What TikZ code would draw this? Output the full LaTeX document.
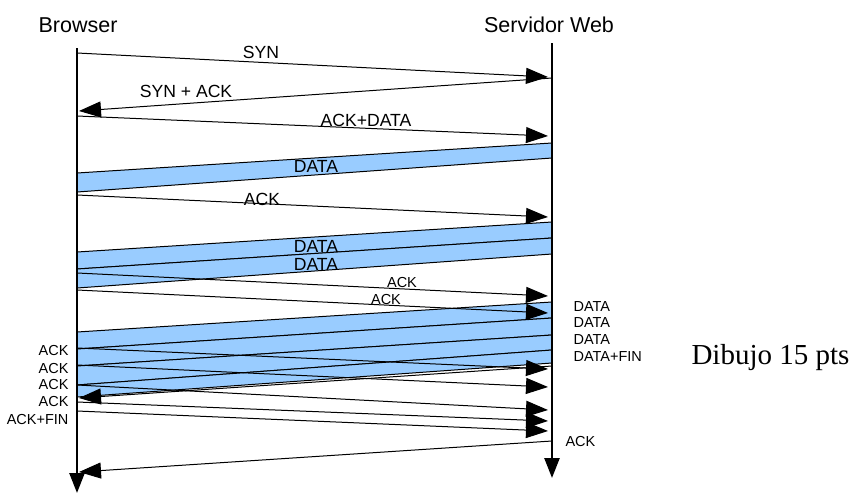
\documentclass[tikz,border=0pt]{standalone}
\usepackage{fontspec}
\setmainfont{Liberation Sans}
\newfontfamily\serifnote{Liberation Serif}
\usetikzlibrary{arrows.meta}
\definecolor{databand}{HTML}{99CCFF}

\begin{document}
\begin{tikzpicture}[x=1pt, y=-1pt,
  life/.style={line width=2.5pt, -{Triangle[length=20pt, width=15pt]}},
  msg/.style={line width=1pt, -{Triangle[length=22pt, width=16pt]}},
  band/.style={draw, line width=1pt, fill=databand},
  host/.style={anchor=base, font=\fontsize{21.5}{24}\selectfont},
  lab/.style={anchor=base, font=\fontsize{17.6}{20}\selectfont},
  tag/.style={anchor=base, font=\fontsize{14.5}{17}\selectfont}]
  \useasboundingbox (0,0) rectangle (849,493);
  % hosts
  \node[host] (browser) at (78,32) {Browser};
  \node[host] (server) at (549,32) {Servidor Web};
  \coordinate (b-top) at (77,48);
  \coordinate (b-end) at (77,493);
  \coordinate (s-top) at (552,43);
  \coordinate (s-end) at (552,478);
  % data segments
  \foreach \la/\lb/\ra/\rb in {173/192/143/158, 252/269/222/238, 269/288/238/254,
      332/349/302/318, 349/366/318/335, 366/385/335/350, 385/397/350/363} {
    \draw[band] (77,\la) -- (552,\ra) -- (552,\rb) -- (77,\lb) -- cycle;
  }
  \draw[life] (b-top) -- (b-end);
  \draw[life] (s-top) -- (s-end);
  % browser -> server
  \foreach \i/\ya/\yb in {1/53/77, 2/116/136, 3/195/217, 4/273/296, 5/290/313,
      6/348/369, 7/365/387, 8/385/410, 9/402/421, 10/411/431} {
    \coordinate (out\i) at (77,\ya);
    \coordinate (in\i) at (548,\yb);
    \draw[msg] (out\i) -- (in\i);
  }
  % server -> browser
  \foreach \i/\ya/\yb in {1/78/111, 2/366/398, 3/441/472} {
    \coordinate (back\i) at (552,\ya);
    \coordinate (got\i) at (79,\yb);
    \draw[msg] (back\i) -- (got\i);
  }
  % labels
  \node[lab] (syn) at (261,58) {SYN};
  \node[lab] (synack) at (186,97) {SYN + ACK};
  \node[lab] (ackdata) at (366,126) {ACK+DATA};
  \node[lab] (data1) at (316,172) {DATA};
  \node[lab] (ack1) at (262,205) {ACK};
  \node[lab] (data2) at (316,252) {DATA};
  \node[lab] (data3) at (316,270) {DATA};
  \node[tag] (ack2) at (402,287) {ACK};
  \node[tag] (ack3) at (386,304) {ACK};
  \foreach \i/\yy/\txt in {1/311/DATA, 2/327/DATA, 3/344/DATA, 4/361/DATA+FIN} {
    \node[tag, anchor=base west] (seg\i) at (570,\yy) {\txt};
  }
  \foreach \i/\yy/\txt in {1/355/ACK, 2/373/ACK, 3/389/ACK, 4/406/ACK, 5/424/ACK+FIN} {
    \node[tag, anchor=base east] (conf\i) at (72,\yy) {\txt};
  }
  \node[tag, anchor=base west] (lastack) at (562,446) {ACK};
  \node[anchor=base west, font=\serifnote\fontsize{29}{32}\selectfont] (note) at (688,364) {Dibujo 15 pts};
\end{tikzpicture}
\end{document}
